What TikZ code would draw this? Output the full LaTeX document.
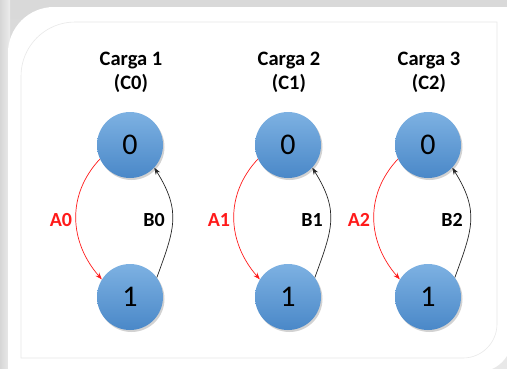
\documentclass[tikz,border=0pt]{standalone}
\usepackage{fontspec}
\setmainfont{Carlito}
\usetikzlibrary{shadows,arrows.meta}
\definecolor{ctop}{HTML}{7DB1E2}
\definecolor{cbot}{HTML}{4A88C8}
\definecolor{ared}{HTML}{FF1A1A}
\tikzset{
  state/.style={circle, minimum size=66pt, inner sep=0pt, top color=ctop, bottom color=cbot,
    drop shadow={shadow xshift=1.5pt, shadow yshift=-2pt, opacity=0.35}, font=\fontsize{30}{30}\selectfont},
  title/.style={align=center, font=\bfseries\fontsize{20.5}{24}\selectfont},
  lab/.style={font=\bfseries\fontsize{20}{20}\selectfont},
  redarr/.style={draw=ared, line width=0.7pt, -{Stealth[length=7pt,width=5pt]}},
  blkarr/.style={draw=black!85, line width=0.7pt, -{Stealth[length=7pt,width=5pt]}}
}
\begin{document}
\begin{tikzpicture}[x=1pt,y=-1pt]
\useasboundingbox (0,0) rectangle (507,368);
% background / page frame
\shade[top color=gray!30, bottom color=gray!18] (0,0) rectangle (507,368);
\shade[left color=gray!32, right color=gray!15] (0,0) rectangle (10,368);
\fill[white] (8,372) {[rounded corners=46pt] -- (8,7)} -- (512,7) {[rounded corners=34pt] -- (512,372)} -- cycle;
\draw[gray!18, line width=0.6pt] (21,358) {[rounded corners=54pt] -- (21,22)} -- (497,22) {[rounded corners=34pt] -- (497,358)} -- cycle;

\foreach \i/\x/\n/\m in {1/130/1/0, 2/288/2/1, 3/428/3/2}{
  \node[title] (t\i) at (\x+1,72) {Carga \n\\(C\m)};
  \node[state] (z\i) at (\x,145) {0};
  \node[state] (o\i) at (\x,297) {1};
  \draw[redarr] (z\i.205) to[out=227, in=131, looseness=1.05] (o\i.148);
  \draw[blkarr] (o\i.36) to[out=70, in=-58, looseness=1.2] (z\i.317);
  \node[lab, text=ared] (a\i) at (\x-69,220) {A\m};
  \node[lab] (b\i) at (\x+24,220) {B\m};
}
\end{tikzpicture}
\end{document}
